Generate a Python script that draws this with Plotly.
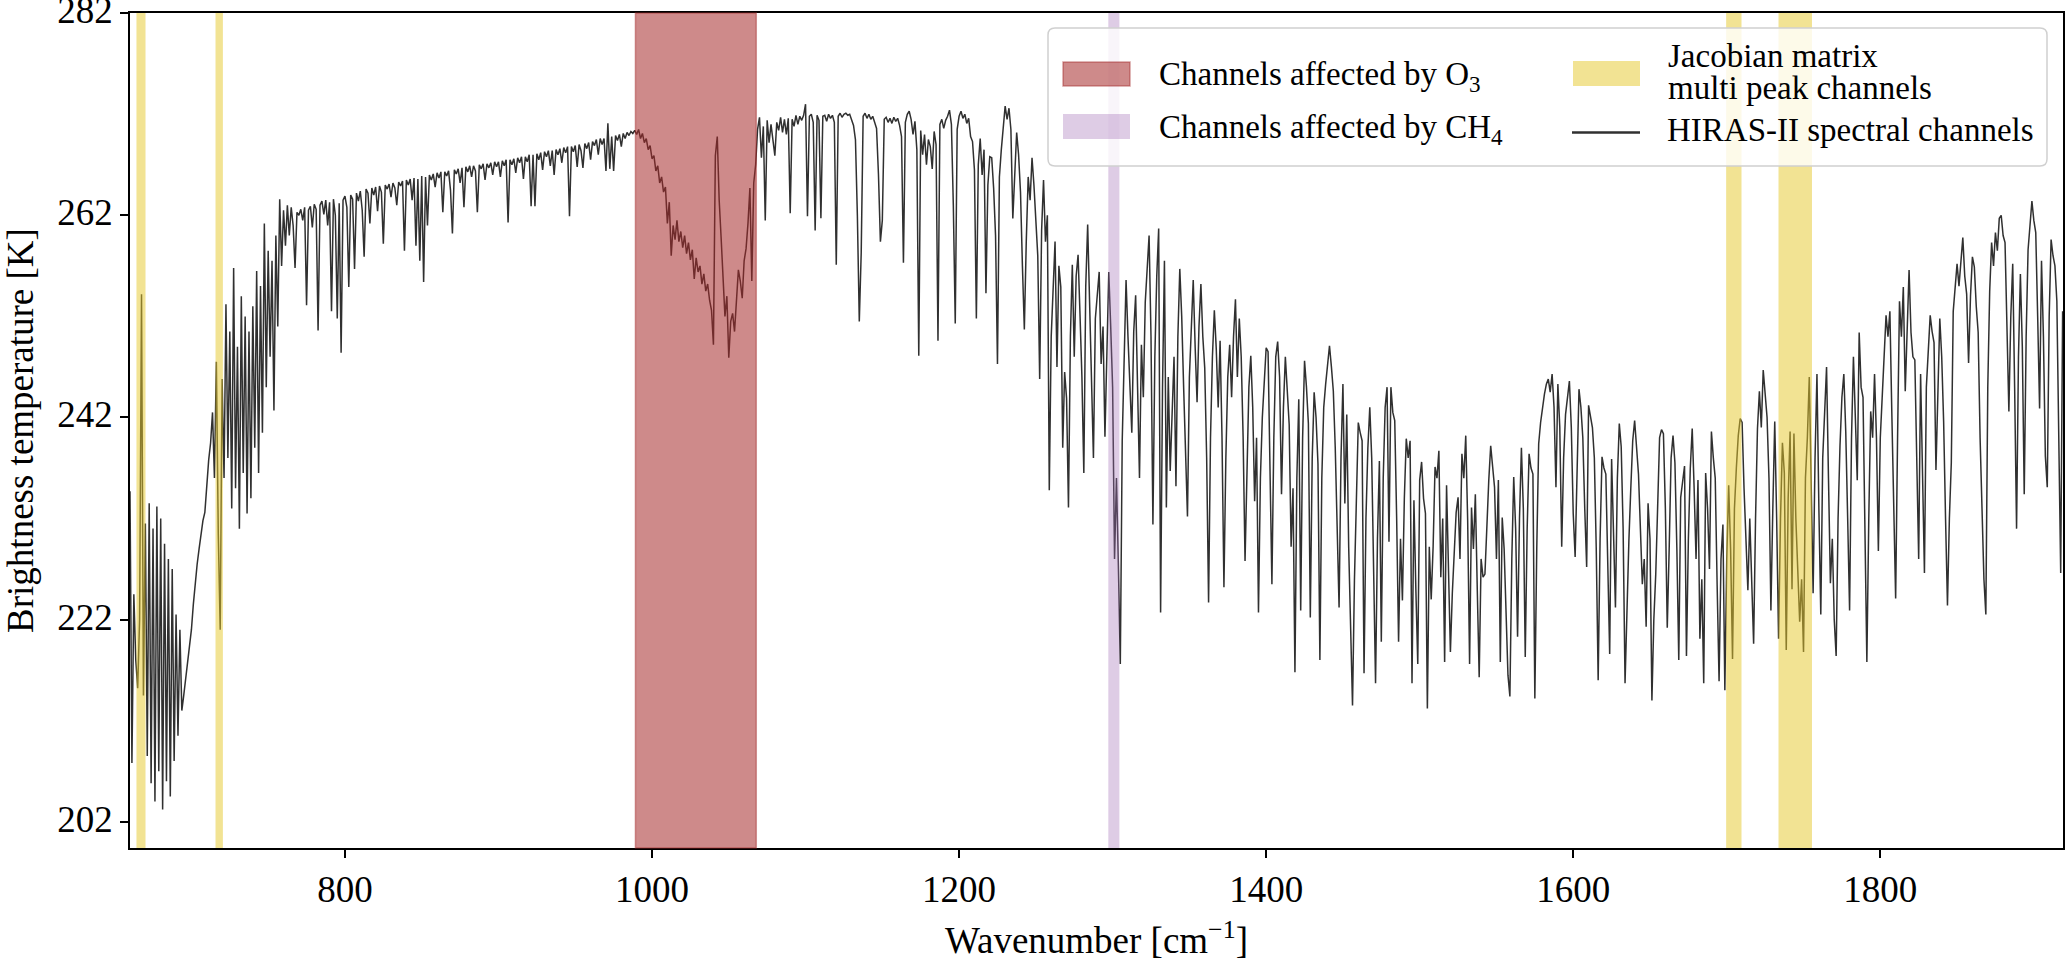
import numpy as np
import plotly.graph_objects as go

# ---------------- data ----------------
# HIRAS-II brightness temperature spectrum, sampled every 1.25 cm-1
step = 1.25

seg_a_start = 660.0
seg_a_bt = [234.7, 207.8, 224.5, 218.0, 215.2, 222.0, 254.2, 214.5, 231.5, 208.5,
            233.5, 205.8, 231.0, 204.0, 233.2, 207.0, 232.0, 203.2, 229.5, 206.0,
            228.0, 204.5, 227.0, 208.0, 222.5, 210.5, 221.0, 213.0, 214.5, 216.0,
            217.5, 219.5, 221.0, 223.5, 225.8, 227.5, 229.0, 230.5, 231.8, 232.6,
            235.5, 237.8, 239.5, 242.5, 236.0, 247.5, 230.5, 221.0, 245.8, 236.0,
            253.2, 238.0, 250.5, 233.0, 256.8, 235.0, 249.0, 231.0, 254.0, 236.5,
            252.0, 232.5, 250.5, 234.0, 253.0, 239.0, 256.5, 236.5, 255.0, 240.5,
            261.2, 245.0, 258.5, 248.0, 257.5, 242.7, 260.0, 251.0, 263.6, 257.0,
            262.5, 259.0, 263.0, 260.0, 262.8, 261.0, 256.8, 262.3]

seg_b_start = 770.0
seg_b_bt = [262.0, 262.6, 261.5, 262.8, 253.1, 262.5, 262.9, 260.8, 263.1, 262.6,
            250.6, 263.0, 263.4, 262.1, 263.5, 261.0, 263.3, 252.5, 263.6, 262.0,
            251.8, 263.2, 248.4, 263.5, 263.9, 262.8, 254.9, 264.0, 263.6, 256.7,
            264.2, 263.4, 264.4, 262.5, 257.9, 264.6, 264.2, 261.2, 264.7, 264.0,
            264.8, 262.4, 264.9, 264.3, 259.2, 265.0, 264.6, 265.1, 263.8, 265.2,
            264.7, 263.0, 265.3, 264.9, 265.4, 258.5, 265.5, 265.0, 265.6, 263.5,
            265.7, 259.0, 265.6, 257.5, 265.9, 255.4, 265.8, 261.0, 266.0, 265.5,
            266.1, 264.8, 266.2, 265.7, 266.3, 262.3, 266.3, 265.9, 266.4, 264.5,
            260.2, 266.5, 266.1, 266.6, 265.2, 266.7, 262.8, 266.8, 266.3, 266.9,
            265.8, 266.9, 266.4, 262.3, 267.0, 266.6, 267.1, 265.5, 267.1, 266.7,
            267.2, 266.0, 267.3, 266.8, 267.3, 265.8, 267.4, 266.9, 267.5, 261.3,
            267.5, 267.0, 267.6, 266.2, 267.7, 267.2, 267.8, 265.6, 267.8, 267.3,
            268.0, 262.9, 268.0, 262.9, 268.1, 267.5, 268.2, 266.5, 268.3, 267.8,
            268.4, 266.9, 268.4, 266.0, 268.5, 268.0, 268.6, 267.2, 268.7, 268.2,
            268.8, 261.9, 268.8, 268.3, 268.9, 266.8, 269.0, 268.4, 266.7, 269.1,
            268.6, 269.2, 267.5, 269.3, 268.9, 269.5, 268.0, 269.6, 269.0, 269.6,
            266.4, 271.1, 266.6, 269.8, 266.4, 269.9, 269.4, 270.0, 268.8, 270.1,
            269.6, 270.2, 269.9, 270.3, 270.1]

seg_c_start = 988.75
seg_c_bt = [270.4, 270.0, 270.5, 269.6, 270.1, 269.2, 269.6, 268.5, 268.9, 267.6,
            267.9, 266.4, 266.9, 265.2, 265.8, 264.3, 264.8, 261.2, 263.3, 258.0,
            261.0, 259.6, 261.5, 259.4, 260.4, 258.8, 260.0, 258.2, 259.3, 257.6,
            258.6, 255.7, 257.8, 256.4, 257.0, 255.2, 256.2, 254.5, 255.2, 253.6,
            252.6, 249.2, 267.9, 269.8, 263.5, 259.8, 255.0, 252.0, 254.0, 247.9,
            251.5, 252.3, 250.5, 254.1, 256.6, 255.5, 253.8, 257.5, 258.7, 261.2,
            264.7, 255.5, 265.2, 267.0]

seg_d_start = 1068.75
seg_d_bt = [270.5, 271.7, 267.7, 270.8, 261.5, 271.4, 269.2, 271.0, 269.5, 267.9,
            271.2, 270.4, 271.7, 270.2, 271.5, 270.0, 271.6, 262.2, 271.5, 270.8,
            271.9, 271.0, 271.8, 271.4, 271.9, 273.0, 261.9, 271.8, 272.0, 271.2,
            260.5, 271.9, 271.4, 261.7, 271.8, 271.9, 271.3, 272.0, 271.6, 271.9,
            271.2, 257.1, 271.8, 272.1, 271.7, 272.0, 272.1, 271.9, 272.0, 271.5,
            270.9, 269.5, 262.0, 251.5, 258.3, 271.8, 272.1, 271.6, 272.0, 271.5,
            271.8, 271.2, 270.6, 266.0, 259.4, 261.5, 271.5, 271.7, 271.2, 271.6,
            271.1, 271.7, 271.3, 271.6, 270.9, 269.8, 257.3, 271.2, 272.0, 272.3,
            271.5, 270.0, 271.3, 268.5, 248.1, 270.4, 268.0, 270.0, 267.0, 269.5,
            268.8, 266.6, 270.3, 269.0, 249.6, 271.0, 271.5, 270.6, 271.4, 271.8,
            272.4, 271.0, 263.0, 251.3, 270.5, 271.8, 272.3, 271.6, 272.0, 271.1,
            271.6, 269.8, 269.3, 266.5, 251.8, 267.0, 269.6, 266.0, 268.5, 254.3,
            265.0, 267.8, 267.7, 264.7, 260.0, 247.3, 265.8, 268.5, 270.8, 272.8,
            271.5, 272.6, 270.5, 261.7, 266.0, 270.2, 268.0, 264.3, 257.0, 250.7,
            259.4, 265.8, 263.5, 267.7, 265.0, 262.0]

seg_e_start = 1251.25
seg_e_bt = [258.0, 245.8, 260.5, 265.5, 259.4, 262.0, 234.8, 250.0, 254.1, 259.4,
            247.0, 257.0, 254.9, 239.0, 246.5, 243.9, 233.1, 250.0, 257.1, 248.0,
            256.0, 258.1, 252.2, 246.0, 236.5, 255.0, 261.1, 252.6, 244.0, 238.0,
            251.8, 254.5, 256.4, 247.3, 251.0, 240.1, 249.0, 256.4, 251.0, 245.0,
            228.0, 236.0, 227.3, 217.6, 239.7, 249.5, 255.6, 250.0, 246.0, 240.5,
            250.5, 254.1, 245.0, 236.0, 249.2, 244.0, 253.4, 256.5, 260.0, 250.0,
            231.4, 248.0, 256.0, 260.7, 222.7, 245.0, 257.5, 233.1, 246.0, 236.7,
            241.6, 248.0, 235.2, 250.0, 256.7, 252.0, 245.0, 238.0, 232.2, 246.0,
            251.1, 255.6, 249.0, 243.5, 251.0, 255.2, 250.0, 246.9, 238.0, 223.7,
            240.0, 248.0, 252.6, 248.8, 243.0, 249.6, 240.0, 225.2, 238.0, 246.0,
            249.2, 244.0, 250.0, 253.7, 246.0, 251.8, 248.0, 240.0, 227.8, 238.0,
            245.0, 248.1, 243.0, 233.7, 240.0, 222.7, 236.0, 242.0, 245.8, 248.9]

seg_f_start = 1401.25
seg_f_bt = [248.5, 236.0, 225.5, 240.0, 248.0, 249.5, 246.0, 234.4, 243.0, 248.0,
            244.5, 241.3, 229.2, 235.0, 216.8, 236.0, 243.8, 222.9, 240.0, 247.6,
            245.0, 241.4, 222.2, 238.0, 244.5, 242.0, 237.4, 218.0, 236.0, 243.0,
            245.3, 247.5, 249.1, 247.0, 244.6, 239.0, 232.0, 223.2, 238.0, 245.3,
            233.5, 242.3, 229.2, 222.0, 213.5, 225.9, 235.0, 241.5, 240.5, 239.7,
            216.7, 232.0, 239.0, 243.0, 238.0, 226.0, 215.7, 230.0, 237.7, 219.8,
            236.0, 243.0, 245.0, 229.7, 245.0, 242.5, 241.7, 232.0, 219.8, 230.0,
            223.9, 234.0, 239.9, 238.0, 239.7, 215.7, 233.8, 225.0, 217.6, 235.8,
            237.6, 234.0, 232.5, 213.2, 229.2, 224.0, 229.2, 237.1, 236.0, 238.7,
            226.2, 232.0, 217.8, 235.3, 228.0, 218.8, 224.6, 229.0, 232.6, 234.1,
            228.0, 238.4, 236.0, 240.2, 231.8, 217.6, 233.1, 229.0, 234.4, 225.0,
            216.3, 228.0, 226.2, 226.5, 232.0, 235.8, 239.2, 237.0, 235.1, 228.0,
            235.8, 217.8, 232.1, 229.0, 223.6, 216.5, 214.4, 228.0, 236.1, 231.0,
            220.3, 232.0, 239.0, 233.0, 218.3, 231.0, 238.4, 237.0, 236.4, 214.2,
            229.0, 239.4, 241.5, 243.0, 244.3, 245.3, 245.8, 244.5, 246.3, 243.0,
            235.1, 245.3, 241.0, 229.2, 238.0, 242.3, 244.0, 245.6, 241.0, 232.5,
            228.2, 238.0, 244.8, 243.0, 240.0, 233.0, 227.2, 243.2, 242.0, 241.0,
            238.0, 229.0, 216.0, 230.0, 238.1, 237.0, 236.4, 226.0, 218.6, 237.9,
            231.0, 223.2, 236.0, 241.4, 239.1, 231.0, 215.7, 224.0, 229.8, 235.0,
            239.7, 241.7, 239.0, 236.4, 231.0, 225.5, 228.0, 221.3, 233.5, 230.0,
            214.0, 222.0, 226.5, 234.0, 240.0, 240.8, 240.4, 233.1]

seg_g_start = 1661.25
seg_g_bt = [221.2, 229.0, 238.0, 240.2, 237.5, 229.0, 218.0, 234.1, 236.0, 237.2,
            218.4, 230.0, 237.0, 240.9, 235.0, 228.0, 235.8, 220.1, 226.0, 215.7,
            236.5, 233.0, 227.0, 240.6, 238.0, 236.0, 225.3, 215.9, 228.0, 231.4,
            215.0, 228.0, 235.3, 229.0, 218.1, 233.0, 237.0, 240.2, 241.9, 241.5,
            235.0, 230.0, 224.9, 232.0, 225.0, 219.6, 232.0, 240.9, 244.6, 241.0,
            246.7, 244.0, 242.0, 236.0, 222.9, 233.0, 241.6, 232.0, 220.1, 232.0,
            239.5, 236.5, 219.0, 234.0, 240.6, 225.0, 240.4, 232.0, 227.6, 221.8,
            226.0, 218.8, 236.0, 240.0, 246.0, 235.0, 224.6, 238.0, 246.3, 233.0,
            222.5, 238.0, 242.9, 247.0, 236.0, 225.6, 230.0, 222.0, 218.4, 232.0,
            239.2, 244.0, 246.3, 240.6, 232.0, 222.9, 240.0, 248.0, 242.0, 235.8,
            250.4, 245.0, 244.0, 230.0, 217.8, 232.0, 242.6, 240.0, 246.3, 240.0,
            228.8, 240.0, 244.6, 249.0, 252.1, 250.0, 252.5, 242.5, 232.0, 224.1,
            240.0, 253.5, 250.0, 254.9, 244.6, 252.0, 256.6, 250.4, 248.0, 247.7,
            236.0, 228.0, 246.3, 238.0, 226.6, 245.0, 249.0, 252.1, 250.5, 249.4,
            236.8, 245.0, 251.8, 248.0, 241.6, 232.0, 223.4, 232.0, 237.5, 252.5,
            255.0, 257.2, 255.0, 257.6, 259.8, 256.0, 254.2, 247.4, 254.0, 257.9,
            256.9, 253.0, 250.4, 240.0, 232.1, 226.0, 222.5, 245.0, 254.5, 259.3,
            257.0, 260.3, 258.5, 261.7, 262.0, 260.0, 259.3, 249.0, 242.6, 252.0,
            257.2, 245.0, 231.0, 248.0, 256.2, 249.0, 234.4, 250.0, 258.6, 261.0,
            263.4, 261.5, 260.3, 252.0, 242.9, 257.5, 250.0, 238.2, 235.1, 252.0,
            259.6, 258.0, 257.0, 253.5, 240.0, 226.6, 252.5]

# highlighted channel ranges [cm-1]
o3_band = (989.2, 1067.9)
ch4_band = (1297.2, 1304.4)
jacobian_bands = [(664.2, 670.1), (715.7, 720.5), (1699.6, 1709.6), (1733.7, 1755.5)]

# axis settings
x_range = (660.0, 1919.0)
y_range = (199.4, 282.02)
x_ticks = [800, 1000, 1200, 1400, 1600, 1800]
y_ticks = [202, 222, 242, 262, 282]

legend_labels = ["Channels affected by O<sub>3</sub>",
                 "Channels affected by CH<sub>4</sub>",
                 "Jacobian matrix", "multi peak channels",
                 "HIRAS-II spectral channels"]

# ---------------- build arrays ----------------
segments = [(seg_a_start, seg_a_bt), (seg_b_start, seg_b_bt), (seg_c_start, seg_c_bt),
            (seg_d_start, seg_d_bt), (seg_e_start, seg_e_bt), (seg_f_start, seg_f_bt),
            (seg_g_start, seg_g_bt)]
wn = np.concatenate([s + step * np.arange(len(v)) for s, v in segments])
bt = np.concatenate([np.asarray(v, dtype=float) for s, v in segments])

# ---------------- styles / layout ----------------
W, H = 2067, 962
ML, MR, MT, MB = 130, 4, 13, 114
PW, PH = W - ML - MR, H - MT - MB
FONT = "Liberation Serif"

O3_FILL = "rgba(165,42,42,0.55)"
O3_EDGE = "rgba(165,42,42,0.45)"
CH4_FILL = "rgba(160,110,180,0.35)"
JAC_FILL = "rgba(230,200,40,0.5)"
LINE_COL = "rgba(25,25,25,0.9)"


def px_x(px):
    return (px - ML) / PW


def px_y(py):
    return (H - MB - py) / PH


fig = go.Figure()
fig.add_trace(go.Scatter(x=wn, y=bt, mode="lines", name="HIRAS-II spectral channels",
                         line=dict(color=LINE_COL, width=1.5), showlegend=False,
                         hoverinfo="skip"))

shapes = []
for (x0, x1) in jacobian_bands:
    shapes.append(dict(type="rect", xref="x", yref="paper", x0=x0, x1=x1, y0=0, y1=1,
                       fillcolor=JAC_FILL, line=dict(width=0), layer="above"))
shapes.append(dict(type="rect", xref="x", yref="paper", x0=o3_band[0], x1=o3_band[1],
                   y0=0, y1=1, fillcolor=O3_FILL, line=dict(color=O3_EDGE, width=1.5),
                   layer="above"))
shapes.append(dict(type="rect", xref="x", yref="paper", x0=ch4_band[0], x1=ch4_band[1],
                   y0=0, y1=1, fillcolor=CH4_FILL, line=dict(width=0), layer="above"))

# legend frame (rounded rectangle)
bx0, bx1, by0, by1, rr = 1048, 2047, 28, 166, 7
X0, X1 = px_x(bx0), px_x(bx1)
Y0, Y1 = px_y(by0), px_y(by1)
rx, ry = rr / PW, rr / PH
path = (f"M{X0+rx},{Y0} L{X1-rx},{Y0} Q{X1},{Y0} {X1},{Y0-ry} "
        f"L{X1},{Y1+ry} Q{X1},{Y1} {X1-rx},{Y1} L{X0+rx},{Y1} "
        f"Q{X0},{Y1} {X0},{Y1+ry} L{X0},{Y0-ry} Q{X0},{Y0} {X0+rx},{Y0} Z")
shapes.append(dict(type="path", xref="paper", yref="paper", path=path,
                   fillcolor="rgba(255,255,255,0.8)",
                   line=dict(color="rgb(208,208,208)", width=1.5), layer="above"))


# legend handles
def patch(x0, x1, y0, y1, fill, edge=None):
    return dict(type="rect", xref="paper", yref="paper", x0=px_x(x0), x1=px_x(x1),
                y0=px_y(y1), y1=px_y(y0), fillcolor=fill,
                line=dict(color=edge, width=1.5) if edge else dict(width=0),
                layer="above")


shapes.append(patch(1063, 1130, 62, 86, O3_FILL, O3_EDGE))
shapes.append(patch(1063, 1130, 114, 139, CH4_FILL))
shapes.append(patch(1573, 1640, 61, 86, JAC_FILL))
shapes.append(dict(type="line", xref="paper", yref="paper", x0=px_x(1572), x1=px_x(1640),
                   y0=px_y(132.5), y1=px_y(132.5), line=dict(color=LINE_COL, width=2.6),
                   layer="above"))

annotations = []
lf = dict(family=FONT, size=33, color="black")
for txt, (tx, ty) in zip(legend_labels,
                         [(1157, 76), (1157, 129), (1666, 56), (1666, 88), (1665, 130)]):
    annotations.append(dict(text=txt, xref="paper", yref="paper", x=px_x(tx), y=px_y(ty),
                            xanchor="left", yanchor="middle", showarrow=False, font=lf))

axis_common = dict(showline=True, linecolor="black", linewidth=1.6, mirror=True,
                   ticks="outside", ticklen=8, tickwidth=1.5, tickcolor="black",
                   showgrid=False, zeroline=False, ticklabeloverflow="allow",
                   tickfont=dict(family=FONT, size=37, color="black"))

fig.update_layout(
    width=W, height=H, autosize=False,
    margin=dict(l=ML, r=MR, t=MT, b=MB, pad=0),
    paper_bgcolor="white", plot_bgcolor="white",
    showlegend=False,
    shapes=shapes, annotations=annotations,
    xaxis=dict(range=list(x_range), tickvals=x_ticks,
               title=dict(text="Wavenumber [cm<sup>\u22121</sup>]", standoff=18,
                          font=dict(family=FONT, size=37, color="black")),
               automargin=False, **axis_common),
    yaxis=dict(range=list(y_range), tickvals=y_ticks, ticklabelshift=-3,
               title=dict(text="Brightness temperature [K]", standoff=14,
                          font=dict(family=FONT, size=37, color="black")),
               automargin=False, **axis_common),
)

fig.write_html("out.html", config={"displayModeBar": False},
               post_script="document.body.style.margin='0';")
